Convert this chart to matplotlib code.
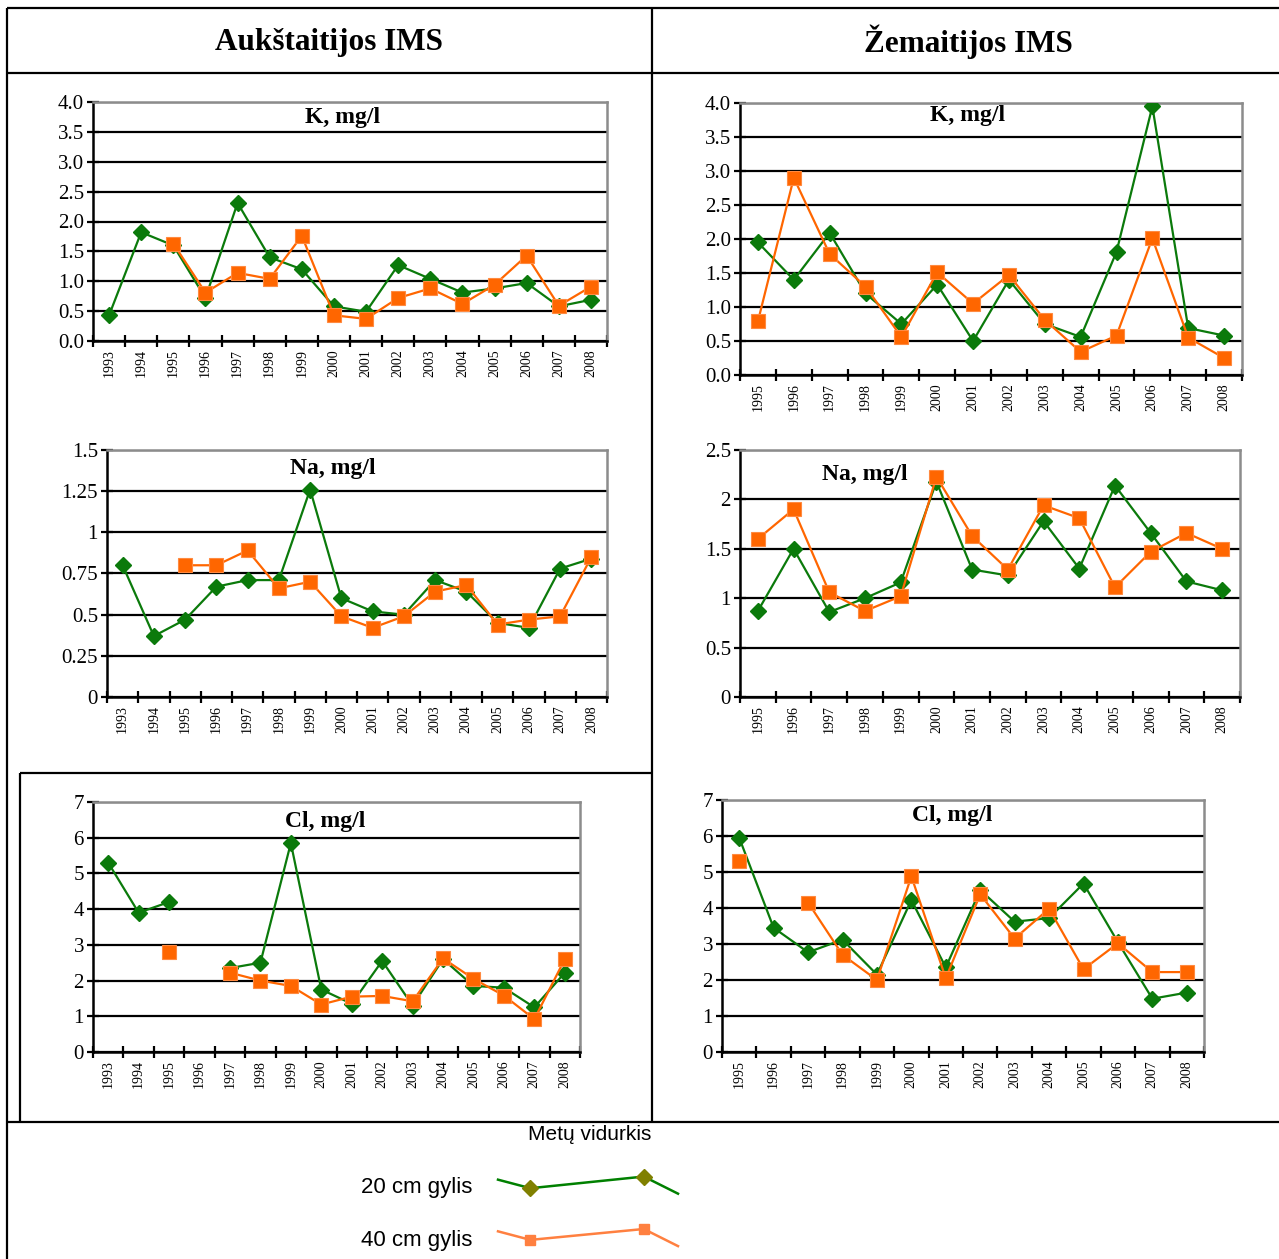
import numpy as np
import matplotlib
matplotlib.use("Agg")
import matplotlib.pyplot as plt
from matplotlib.lines import Line2D
from matplotlib.legend_handler import HandlerBase

nan = np.nan

# ---------------- data ----------------
years_a = ['1993', '1994', '1995', '1996', '1997', '1998', '1999', '2000',
           '2001', '2002', '2003', '2004', '2005', '2006', '2007', '2008']
years_z = ['1995', '1996', '1997', '1998', '1999', '2000', '2001',
           '2002', '2003', '2004', '2005', '2006', '2007', '2008']

a_k_20 = [0.43, 1.82, 1.60, 0.72, 2.31, 1.40, 1.20, 0.58, 0.49, 1.27, 1.04, 0.81, 0.88, 0.97, 0.58, 0.69]
a_k_40 = [nan, nan, 1.63, 0.81, 1.14, 1.04, 1.76, 0.43, 0.37, 0.72, 0.88, 0.62, 0.94, 1.43, 0.59, 0.91]

z_k_20 = [1.95, 1.40, 2.09, 1.20, 0.75, 1.33, 0.50, 1.40, 0.75, 0.56, 1.81, 3.95, 0.69, 0.58]
z_k_40 = [0.79, 2.90, 1.78, 1.30, 0.56, 1.51, 1.05, 1.47, 0.81, 0.34, 0.58, 2.01, 0.55, 0.25]

a_na_20 = [0.80, 0.37, 0.47, 0.67, 0.71, 0.71, 1.26, 0.60, 0.52, 0.50, 0.71, 0.64, 0.45, 0.42, 0.78, 0.84]
a_na_40 = [nan, nan, 0.80, 0.80, 0.89, 0.66, 0.70, 0.49, 0.42, 0.49, 0.64, 0.68, 0.44, 0.47, 0.49, 0.85]

z_na_20 = [0.87, 1.50, 0.86, 1.00, 1.16, 2.18, 1.29, 1.23, 1.78, 1.30, 2.14, 1.66, 1.17, 1.08]
z_na_40 = [1.60, 1.90, 1.06, 0.87, 1.02, 2.23, 1.63, 1.29, 1.94, 1.81, 1.11, 1.47, 1.66, 1.50]

a_cl_20 = [5.30, 3.90, 4.20, nan, 2.35, 2.50, 5.85, 1.75, 1.35, 2.55, 1.30, 2.60, 1.85, 1.80, 1.25, 2.22]
a_cl_40 = [nan, nan, 2.80, nan, 2.22, 2.00, 1.85, 1.33, 1.55, 1.57, 1.42, 2.62, 2.05, 1.58, 0.92, 2.60]

z_cl_20 = [5.95, 3.45, 2.77, 3.12, 2.15, 4.22, 2.35, 4.50, 3.62, 3.72, 4.68, 3.05, 1.48, 1.65]
z_cl_40 = [5.30, nan, 4.15, 2.70, 2.00, 4.88, 2.05, 4.38, 3.15, 3.98, 2.30, 3.02, 2.22, 2.22]

a_na_ticklabels = ['0', '0.25', '0.5', '0.75', '1', '1.25', '1.5']
z_na_ticklabels = ['0', '0.5', '1', '1.5', '2', '2.5']

header_left = 'Aukštaitijos IMS'
header_right = 'Žemaitijos IMS'
legend_title = 'Metų vidurkis'
series_labels = ['20 cm gylis', '40 cm gylis']

# ---------------- style ----------------
W, H = 1279, 1259
GREEN = '#0b7a0b'
ORANGE = '#ff6600'
SERIF = 'Liberation Serif'
SANS = 'Liberation Sans'

fig = plt.figure(figsize=(W / 100, H / 100), dpi=100)
fig.patch.set_facecolor('white')

# background / table frame
bg = fig.add_axes([0, 0, 1, 1], zorder=-1)
bg.set_xlim(0, W)
bg.set_ylim(H, 0)
bg.axis('off')
frame_kw = dict(color='black', lw=1.6, solid_capstyle='butt')
bg.plot([7, W], [8, 8], **frame_kw)
bg.plot([7, 7], [8, H], **frame_kw)
bg.plot([7, W], [73, 73], **frame_kw)
bg.plot([652, 652], [8, 1122], **frame_kw)
bg.plot([20, 652], [773, 773], **frame_kw)
bg.plot([20, 20], [773, 1122], **frame_kw)
bg.plot([7, W], [1122, 1122], **frame_kw)
bg.text(329, 42, header_left, ha='center', va='center', fontsize=22.5,
        fontweight='bold', family=SERIF)
bg.text(968, 42, header_right, ha='center', va='center', fontsize=22.5,
        fontweight='bold', family=SERIF)


def px_axes(x0, y0, x1, y1):
    return fig.add_axes([x0 / W, 1 - y1 / H, (x1 - x0) / W, (y1 - y0) / H])


def chart(box, years, s20, s40, ymax, step, ticklabels, title, tpos):
    ax = px_axes(*box)
    n = len(years)
    x = np.arange(n)
    ax.plot(x, s20, color=GREEN, lw=1.6, marker='D', ms=8,
            mfc=GREEN, mec=GREEN, zorder=3)
    ax.plot(x, s40, color=ORANGE, lw=1.6, marker='s', ms=10,
            mfc=ORANGE, mec='#ff8a40', mew=0.8, zorder=4)
    ax.set_xlim(-0.5, n - 0.5)
    ax.set_ylim(0, ymax)
    yt = np.arange(0, ymax + step / 2, step)
    ax.set_yticks(yt)
    ax.set_yticklabels(ticklabels)
    ax.set_xticks(x)
    ax.set_xticklabels(years, rotation=90)
    ax.set_xticks(np.arange(n + 1) - 0.5, minor=True)
    ax.tick_params(axis='x', which='major', length=0, pad=6,
                   labelsize=10)
    ax.tick_params(axis='x', which='minor', direction='inout', length=8,
                   width=1.6)
    ax.tick_params(axis='y', direction='inout', length=9, width=1.6,
                   labelsize=15, pad=2)
    for lab in ax.get_xticklabels() + ax.get_yticklabels():
        lab.set_family(SERIF)
    ax.yaxis.grid(True, color='black', lw=1.6)
    ax.set_axisbelow(True)
    for s in ('left', 'bottom'):
        ax.spines[s].set_color('black')
        ax.spines[s].set_linewidth(1.8)
    for s in ('top', 'right'):
        ax.spines[s].set_color('#8c8c8c')
        ax.spines[s].set_linewidth(1.8)
    ax.text(tpos[0], tpos[1], title, transform=ax.transAxes, ha='center',
            va='center', fontsize=17, fontweight='bold', family=SERIF,
            zorder=5)
    return ax


fmt1 = lambda ymax, step: ['%.1f' % v for v in np.arange(0, ymax + step / 2, step)]
fmt0 = lambda ymax, step: ['%d' % v for v in np.arange(0, ymax + step / 2, step)]

chart((93, 102, 607, 341), years_a, a_k_20, a_k_40, 4.0, 0.5,
      fmt1(4.0, 0.5), 'K, mg/l', (0.486, 0.935))
chart((740, 103, 1242, 375), years_z, z_k_20, z_k_40, 4.0, 0.5,
      fmt1(4.0, 0.5), 'K, mg/l', (0.454, 0.955))
chart((107, 450, 607, 697), years_a, a_na_20, a_na_40, 1.5, 0.25,
      a_na_ticklabels, 'Na, mg/l', (0.452, 0.925))
chart((740, 450, 1240, 697), years_z, z_na_20, z_na_40, 2.5, 0.5,
      z_na_ticklabels, 'Na, mg/l', (0.25, 0.90))
chart((93, 802, 580, 1052), years_a, a_cl_20, a_cl_40, 7, 1,
      fmt0(7, 1), 'Cl, mg/l', (0.476, 0.92))
chart((722, 800, 1204, 1052), years_z, z_cl_20, z_cl_40, 7, 1,
      fmt0(7, 1), 'Cl, mg/l', (0.477, 0.94))


# ---------------- legend ----------------
class ZigHandler(HandlerBase):
    def __init__(self, fy, line_color, marker, mcolor, ms):
        super().__init__()
        self.fy = np.array(fy)
        self.line_color = line_color
        self.marker = marker
        self.mcolor = mcolor
        self.ms = ms

    def create_artists(self, legend, orig_handle, xdescent, ydescent,
                       width, height, fontsize, trans):
        fx = np.array([0.0, 0.18, 0.81, 1.0])
        xs = -xdescent + fx * width
        ys = -ydescent + self.fy * height
        ln = Line2D(xs, ys, color=self.line_color, lw=1.8)
        mk = Line2D(xs[1:3], ys[1:3], ls='none', marker=self.marker,
                    ms=self.ms, mfc=self.mcolor, mec=self.mcolor)
        ln.set_transform(trans)
        mk.set_transform(trans)
        return [ln, mk]


h20 = Line2D([], [], color='#008000')
h40 = Line2D([], [], color='#ff8040')
leg = fig.legend([h20, h40], series_labels, loc='center right',
                 bbox_to_anchor=(678 / W, 1 - 1214 / H), frameon=False,
                 markerfirst=False, handlelength=8.1, handletextpad=1.15,
                 labelspacing=1.45, borderpad=0, borderaxespad=0,
                 prop={'family': SANS, 'size': 16},
                 handler_map={h20: ZigHandler([0.85, 0.3, 1.05, -0.05], '#008000', 'D', '#808000', 8),
                              h40: ZigHandler([0.95, 0.4, 1.1, 0.0], '#ff8040', 's', '#ff8040', 7.5)})
fig.text(590 / W, 1 - 1125 / H, legend_title, ha='center', va='top',
         family=SANS, fontsize=15)

fig.savefig('out.png', dpi=100, facecolor='white')
